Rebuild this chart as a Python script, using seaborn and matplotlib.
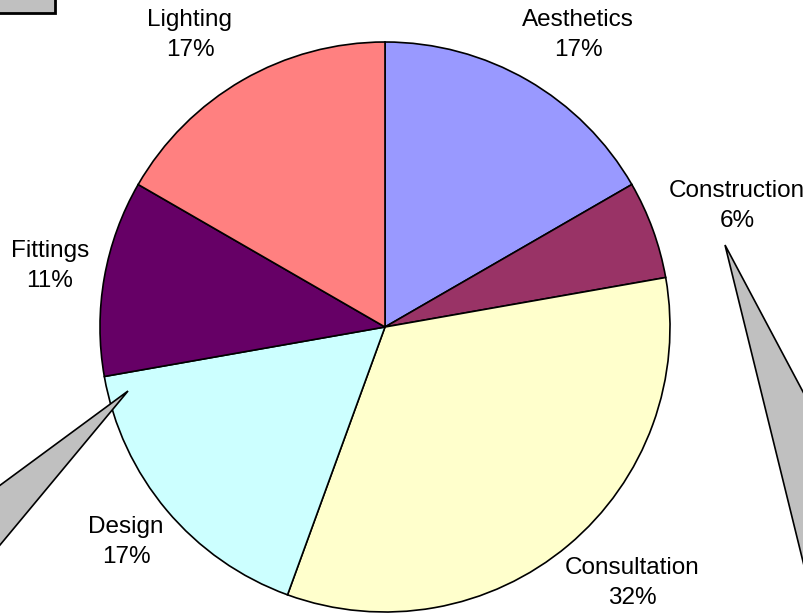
import matplotlib
import seaborn as sns

matplotlib.use("Agg")

import matplotlib.pyplot as plt
from matplotlib.patches import Polygon, Rectangle

categories = ["Aesthetics", "Construction", "Consultation", "Design", "Fittings", "Lighting"]
shares = [3, 1, 6, 3, 2, 3]
pct_labels = ["17%", "6%", "32%", "17%", "11%", "17%"]
slice_colors = ["#9999FF", "#993366", "#FFFFCC", "#CCFFFF", "#660066", "#FF8080"]

# label centres in pixels from the top-left corner
label_xy = [(578, 35), (737, 206), (632, 583), (126, 542), (50, 266), (190, 35)]

W, H = 804, 615

sns.set_style("white")
plt.rcParams["font.family"] = ["Liberation Sans", "DejaVu Sans"]

fig = plt.figure(figsize=(W / 100, H / 100), dpi=100)
ax = fig.add_axes([0, 0, 1, 1])

labels = [f"{c}\n{p}" for c, p in zip(categories, pct_labels)]
wedges, texts = ax.pie(
    shares,
    labels=labels,
    colors=sns.color_palette(slice_colors),
    startangle=90,
    counterclock=False,
    center=(385, H - 327),
    radius=285,
    labeldistance=1.23,
    wedgeprops={"edgecolor": "black", "linewidth": 1.2},
    textprops={"ha": "center", "va": "center", "fontsize": 17.5,
               "linespacing": 1.45, "color": "black"},
)
for t, (x, y) in zip(texts, label_xy):
    t.set_position((x, H - y))

ax.set_xlim(0, W)
ax.set_ylim(0, H)
ax.set_aspect("equal")
ax.axis("off")

# callout pointers from boxes that sit outside the visible area
grey = "#C0C0C0"
ax.add_patch(Polygon([(128, H - 391), (-5, H - 489), (-5, H - 551)], closed=True,
                     facecolor=grey, edgecolor="black", linewidth=1.2, clip_on=True))
ax.add_patch(Polygon([(725, H - 245), (810, H - 405), (810, H - 590)], closed=True,
                     facecolor=grey, edgecolor="black", linewidth=1.2, clip_on=True))
ax.add_patch(Rectangle((-10, H - 13), 65, 30, facecolor=grey, edgecolor="black",
                       linewidth=2, clip_on=True))

fig.savefig("out.png", dpi=100)
